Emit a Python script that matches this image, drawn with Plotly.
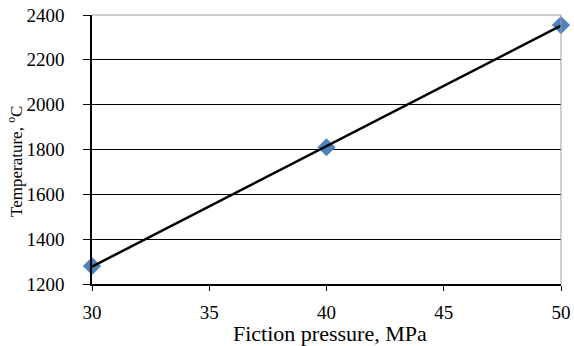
import numpy as np
import plotly.graph_objects as go

pressure = [30, 40, 50]
temperature = [1280, 1810, 2355]
x_ticks = [30, 35, 40, 45, 50]
y_ticks = [1200, 1400, 1600, 1800, 2000, 2200, 2400]

coef = np.polyfit(pressure, temperature, 1)
fit_x = [pressure[0], pressure[-1]]
fit_y = [float(np.polyval(coef, v)) for v in fit_x]

fig = go.Figure()
fig.add_trace(go.Scatter(x=pressure, y=temperature, mode="markers",
                         marker=dict(symbol="diamond", size=14, color="#4F81BD"),
                         showlegend=False, cliponaxis=False))
fig.add_trace(go.Scatter(x=fit_x, y=fit_y, mode="lines",
                         line=dict(color="black", width=2.5),
                         showlegend=False, cliponaxis=False))

FAM = "Liberation Serif, Times New Roman, serif"
tick_font = dict(family=FAM, size=19, color="black")
L, R, T, B = 92, 13, 15, 62
W, H = 574, 346
pw, ph = W - L - R, H - T - B
fig.update_layout(
    width=W, height=H,
    margin=dict(l=L, r=R, t=T, b=B, autoexpand=False),
    paper_bgcolor="white", plot_bgcolor="white",
    font=tick_font,
    xaxis=dict(range=[30, 50], tickvals=x_ticks, showgrid=False,
               showline=True, linecolor="black", linewidth=1.5,
               ticks="outside", ticklen=5, tickcolor="black",
               ticklabelstandoff=5,
               tickfont=tick_font, zeroline=False, automargin=False),
    yaxis=dict(range=[1200, 2400], tickvals=y_ticks, showgrid=True,
               gridcolor="black", gridwidth=1,
               showline=True, linecolor="black", linewidth=1.5,
               ticks="outside", ticklen=7, tickcolor="black",
               ticklabelstandoff=15,
               tickfont=tick_font, zeroline=False, automargin=False),
    annotations=[
        dict(text="Fiction pressure, MPa", xref="paper", yref="paper",
             x=(330 - L) / pw, y=(284 - 333) / ph, xanchor="center", yanchor="middle",
             showarrow=False, font=dict(family=FAM, size=22, color="black")),
        dict(text="Temperature, <sup>o</sup>C", xref="paper", yref="paper",
             x=(15 - L) / pw, y=(284 - 162) / ph, xanchor="center", yanchor="middle",
             textangle=-90, showarrow=False,
             font=dict(family=FAM, size=17, color="black")),
    ],
)
# grey frame on top and right
fig.add_shape(type="line", xref="paper", yref="paper", x0=0, x1=1, y0=1, y1=1,
              line=dict(color="#A0A0A0", width=1))
fig.add_shape(type="line", xref="paper", yref="paper", x0=1, x1=1, y0=0, y1=1,
              line=dict(color="#A0A0A0", width=1))
fig.write_html("out.html", config={"displayModeBar": False},
               post_script="document.body.style.margin='0';document.body.style.overflow='hidden';")
